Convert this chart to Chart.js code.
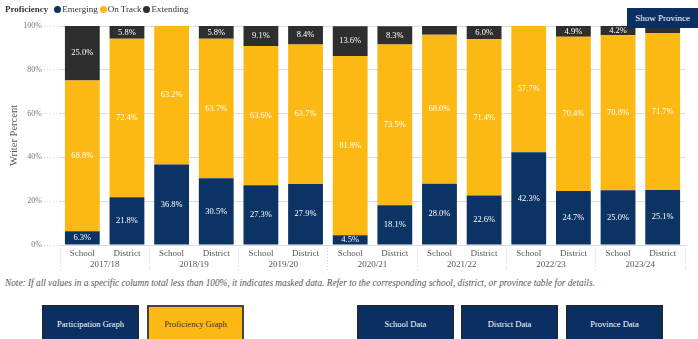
<!DOCTYPE html>
<html>
<head>
<meta charset="utf-8">
<script src="https://cdn.jsdelivr.net/npm/chart.js@4"></script>
<style>
  body { margin: 0; background: #fff; font-family: 'Liberation Serif', serif; }
  #wrap { position: relative; width: 698px; height: 339px; overflow: hidden; }
  #chartBox { position: absolute; left: 0; top: 0; width: 698px; height: 272px; }
  #legenda { position: absolute; left: 5px; top: 4px; font-size: 9px; color: #333; white-space: nowrap; }
  #legenda b { margin-right: 6px; }
  #legenda span.item { margin-right: 2px; }
  #legenda i { display: inline-block; width: 7px; height: 7px; border-radius: 50%; margin-right: 1px; vertical-align: -1px; }
  #btnProvince { position: absolute; left: 627px; top: 8px; width: 71px; height: 20px; background: #0b2f63; color: #fff; font-size: 9px; line-height: 20px; text-align: center; }
  #nota { position: absolute; left: 5px; top: 278px; font-size: 9.3px; font-style: italic; color: #555; white-space: nowrap; }
  .botao { position: absolute; top: 305px; height: 40px; width: 97px; box-sizing: border-box; border: 2px solid #1c2a40; background: #0b2f63; color: #fff; font-size: 8.5px; text-align: center; padding-top: 12px; }
  .botao.ativo { background: #fdb913; color: #333; border-color: #444; }
</style>
</head>
<body>
<div id="wrap">
  <div id="chartBox"><canvas id="chartProficiencia"></canvas></div>
  <div id="legenda"></div>
  <div id="btnProvince">Show Province</div>
  <div id="nota">Note: If all values in a specific column total less than 100%, it indicates masked data. Refer to the corresponding school, district, or province table for details.</div>
  <div class="botao" style="left:42px">Participation Graph</div>
  <div class="botao ativo" style="left:147px">Proficiency Graph</div>
  <div class="botao" style="left:357px">School Data</div>
  <div class="botao" style="left:461px">District Data</div>
  <div class="botao" style="left:566px">Province Data</div>
</div>
<script>
// Dados do gráfico
const categorias = ['School', 'District', 'School', 'District', 'School', 'District', 'School', 'District',
                    'School', 'District', 'School', 'District', 'School', 'District'];
const anos = ['2017/18', '2018/19', '2019/20', '2020/21', '2021/22', '2022/23', '2023/24'];
const emerging  = [6.3, 21.8, 36.8, 30.5, 27.3, 27.9, 4.5, 18.1, 28.0, 22.6, 42.3, 24.7, 25.0, 25.1];
const onTrack   = [68.8, 72.4, 63.2, 63.7, 63.6, 63.7, 81.8, 73.5, 68.0, 71.4, 57.7, 70.4, 70.8, 71.7];
const extending = [25.0, 5.8, null, 5.8, 9.1, 8.4, 13.6, 8.3, 4.0, 6.0, null, 4.9, 4.2, 3.2];
// barras sem rótulo visível (série Extending)
const semRotulo = [8, 13];
const yTicks = [0, 20, 40, 60, 80, 100];

const series = [
    { nome: 'Emerging', dados: emerging, cor: '#0b3363' },
    { nome: 'On Track', dados: onTrack, cor: '#fdb913' },
    { nome: 'Extending', dados: extending, cor: '#2e2e2e' }
];

// Legenda em HTML
var htmlLegenda = '<b>Proficiency</b>';
series.forEach(function (s) {
    htmlLegenda += '<span class="item"><i style="background:' + s.cor + '"></i>' + s.nome + '</span>';
});
document.getElementById('legenda').innerHTML = htmlLegenda;

// Plugin simples para escrever os valores dentro das barras
const rotulos = {
    id: 'rotulos',
    afterDatasetsDraw(chart) {
        const ctx = chart.ctx;
        ctx.save();
        ctx.font = '8.5px "Liberation Serif"';
        ctx.fillStyle = '#ffffff';
        ctx.textAlign = 'center';
        ctx.textBaseline = 'middle';
        chart.data.datasets.forEach(function (ds, i) {
            chart.getDatasetMeta(i).data.forEach(function (barra, j) {
                const v = ds.data[j];
                if (v == null) return;
                if (i == 2 && semRotulo.includes(j)) return;
                const p = barra.getProps(['x', 'y', 'base'], true);
                ctx.fillText(v.toFixed(1) + '%', p.x, (p.y + p.base) / 2);
            });
        });
        ctx.restore();
    }
};

// separador pontilhado só entre os anos (a cada 2 barras)
function corSeparador(c) {
    return (c.index === undefined || c.index % 2 === 0) ? '#cfcfcf' : 'rgba(0,0,0,0)';
}

const ctx = document.getElementById('chartProficiencia').getContext('2d');
new Chart(ctx, {
    type: 'bar',
    data: {
        labels: categorias,
        datasets: series.map(function (s) {
            return {
                label: s.nome,
                data: s.dados,
                backgroundColor: s.cor,
                barPercentage: 0.78,
                categoryPercentage: 1,
                xAxisID: 'x'
            };
        })
    },
    plugins: [rotulos],
    options: {
        responsive: true,
        maintainAspectRatio: false,
        animation: false,
        layout: { padding: { top: 26, right: 13, left: 8, bottom: 0 } },
        plugins: {
            legend: { display: false },
            tooltip: { enabled: false }
        },
        scales: {
            x: {
                stacked: true,
                weight: 0,
                afterFit: function (scale) { scale.height = 14; },
                grid: { drawOnChartArea: false, offset: true, tickLength: 25, tickBorderDash: [1, 2], color: corSeparador, tickColor: corSeparador },
                border: { display: false },
                ticks: { color: '#555', font: { family: 'Liberation Serif', size: 9 }, padding: -22, maxRotation: 0, autoSkip: false }
            },
            x2: {
                type: 'category',
                labels: anos,
                weight: 1,
                offset: true,
                position: 'bottom',
                afterFit: function (scale) { scale.height = 13; },
                grid: { display: false, drawTicks: false },
                border: { display: false },
                ticks: { color: '#555', font: { family: 'Liberation Serif', size: 9 }, padding: 0, maxRotation: 0, autoSkip: false }
            },
            y: {
                stacked: true,
                min: 0,
                max: 100,
                afterFit: function (scale) { scale.width = 52; },
                afterBuildTicks: function (scale) { scale.ticks = yTicks.map(function (v) { return { value: v }; }); },
                grid: { color: '#dcdcdc', borderDash: [1, 2], tickLength: 16, tickBorderDash: [1, 2], tickColor: '#dcdcdc' },
                border: { display: false },
                ticks: {
                    color: '#777',
                    font: { family: 'Liberation Serif', size: 8 },
                    padding: 2,
                    callback: function (v) { return v + '%'; }
                },
                title: {
                    display: true,
                    text: 'Writer Percent',
                    color: '#555',
                    font: { family: 'Liberation Serif', size: 10.5 },
                    padding: 0
                }
            }
        }
    }
});
</script>
</body>
</html>
